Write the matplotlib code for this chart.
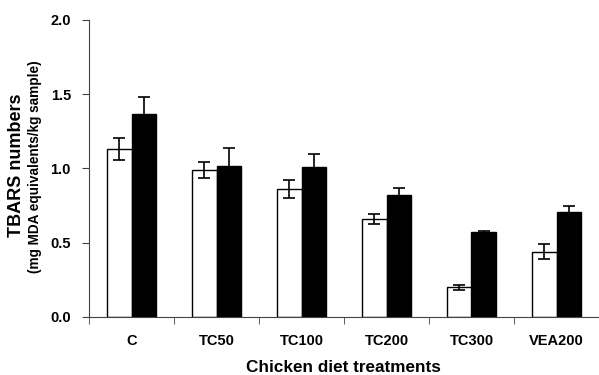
import numpy as np
import matplotlib.pyplot as plt

plt.rcParams['font.family'] = ['Liberation Sans', 'DejaVu Sans']
plt.rcParams['font.weight'] = 'bold'

# data
treatments = ['C', 'TC50', 'TC100', 'TC200', 'TC300', 'VEA200']
white_vals = [1.13, 0.99, 0.86, 0.66, 0.20, 0.44]
white_err = [0.075, 0.055, 0.06, 0.035, 0.015, 0.05]
black_vals = [1.37, 1.02, 1.01, 0.82, 0.57, 0.71]
black_err = [0.11, 0.12, 0.085, 0.05, 0.01, 0.035]

fig = plt.figure(figsize=(5.99, 3.75), dpi=100)
ax = fig.add_axes([89 / 599, 58 / 375, 510 / 599, 297 / 375])

x = np.arange(len(treatments))
w = 0.29
ax.bar(x - w / 2, white_vals, w, color='white', edgecolor='black', linewidth=1)
ax.bar(x + w / 2, black_vals, w, color='black', edgecolor='black', linewidth=1)
ax.errorbar(x - w / 2, white_vals, yerr=white_err, fmt='none', ecolor='black',
            elinewidth=1.2, capsize=4, capthick=1.2)
ax.errorbar(x + w / 2, black_vals, yerr=black_err, fmt='none', ecolor='black',
            elinewidth=1.2, capsize=4, capthick=1.2)

ax.set_xlim(-0.5, len(treatments) - 0.5)
ax.set_ylim(0, 2.0)
ax.set_yticks([0.0, 0.5, 1.0, 1.5, 2.0])
ax.set_yticklabels(['0.0', '0.5', '1.0', '1.5', '2.0'], fontsize=10.5, fontweight='bold')

ax.set_xticks(x)
ax.set_xticklabels(treatments, fontsize=10.5, fontweight='bold')
ax.tick_params(axis='x', which='major', length=0, pad=12)
ax.set_xticks(np.arange(len(treatments)) - 0.5, minor=True)
ax.tick_params(axis='x', which='minor', length=5, direction='out', color='#444444')
ax.tick_params(axis='y', length=5, direction='out', color='#444444', pad=8)

ax.spines['top'].set_visible(False)
ax.spines['right'].set_visible(False)
ax.spines['left'].set_color('#444444')
ax.spines['bottom'].set_color('#444444')

fig.text(343 / 599, 3 / 375, 'Chicken diet treatments',
         ha='center', va='baseline', fontsize=12.3, fontweight='bold')
fig.text(17 / 599, 1 - 165 / 375, 'TBARS numbers', rotation=90,
         ha='center', va='center', fontsize=13, fontweight='bold')
fig.text(35 / 599, 1 - 167 / 375, '(mg MDA equivalents/kg sample)', rotation=90,
         ha='center', va='center', fontsize=9.8, fontweight='bold')

fig.savefig('out.png', dpi=100)
